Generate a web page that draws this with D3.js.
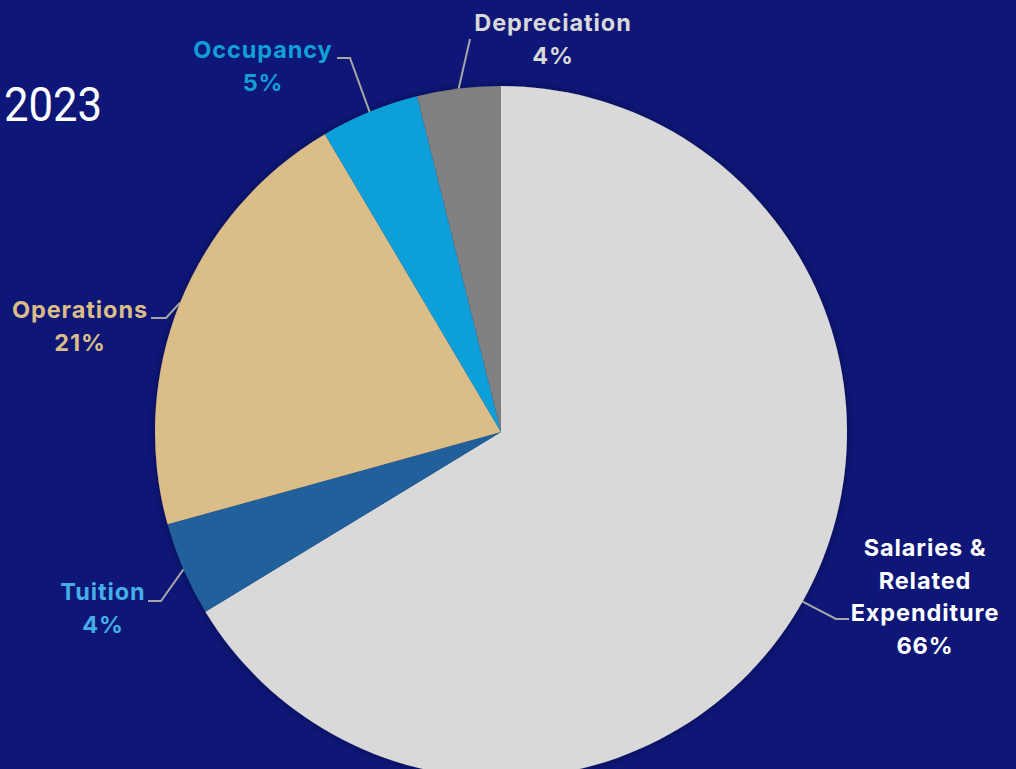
<!DOCTYPE html>
<html><head><meta charset="utf-8">
<script src="https://cdn.jsdelivr.net/npm/d3@7"></script>
<style>
html,body{margin:0;padding:0;background:#0e1777;overflow:hidden;}
svg{display:block;}
</style></head>
<body>
<svg id="c" width="1016" height="769"></svg>
<script>
const categories = ["Salaries & Related Expenditure", "Tuition", "Operations", "Occupancy", "Depreciation"];
const values = [66.3, 4.4, 20.8, 4.6, 3.9];
const pctLabels = ["66%", "4%", "21%", "5%", "4%"];
const labelLines = [["Salaries &", "Related", "Expenditure"], ["Tuition"], ["Operations"], ["Occupancy"], ["Depreciation"]];
const sliceColors = ["#d9d9d9", "#22609b", "#dbbd87", "#119fd8", "#808080"];
const textColors = ["#ffffff", "#45aee6", "#dbbd87", "#119fd8", "#d9d9d9"];

const svg = d3.select("#c");
const cx = 501, cy = 432, R = 346;

const defs = svg.append("defs");
const f = defs.append("filter").attr("id","sh").attr("x","-20%").attr("y","-20%").attr("width","140%").attr("height","140%");
f.append("feGaussianBlur").attr("in","SourceAlpha").attr("stdDeviation",4);
f.append("feOffset").attr("dx",0).attr("dy",0).attr("result","b");
f.append("feFlood").attr("flood-color","#000033").attr("flood-opacity",0.6);
f.append("feComposite").attr("in2","b").attr("operator","in");
const m = f.append("feMerge"); m.append("feMergeNode"); m.append("feMergeNode").attr("in","SourceGraphic");

svg.append("text").attr("transform","translate(4,121) scale(0.91,1)").attr("fill","#ffffff")
  .attr("font-family","Roboto, sans-serif").attr("font-size",48).text("2023");

const pie = d3.pie().sort(null).value(d=>d);
const arcs = pie(values);
const arc = d3.arc().innerRadius(0).outerRadius(R);
const g = svg.append("g").attr("transform",`translate(${cx},${cy})`);
g.append("g").attr("filter","url(#sh)").selectAll("path").data(arcs).join("path")
  .attr("d",arc).attr("fill",(d,i)=>sliceColors[i]);

const labelPos = [
  {x:925, y:548, elbow:[836,619], end:[849,619]},
  {x:103, y:592, elbow:[161,601], end:[148,601]},
  {x:80, y:310, elbow:[166,318], end:[151,318]},
  {x:263, y:50, elbow:[350,58], end:[337,58]},
  {x:553, y:23, elbow:[470,39], end:[470,39]}
];
arcs.forEach((a,i)=>{
  const mid = (a.startAngle + a.endAngle)/2;
  const px = cx + R*Math.sin(mid), py = cy - R*Math.cos(mid);
  const lp = labelPos[i];
  svg.append("polyline").attr("points",[[px,py],lp.elbow,lp.end].map(p=>p.join(",")).join(" "))
    .attr("fill","none").attr("stroke","#a6a6a6").attr("stroke-width",2);
  const lines = labelLines[i].concat([pctLabels[i]]);
  const t = svg.append("text").attr("text-anchor","middle").attr("fill",textColors[i])
    .attr("font-family","Inter, sans-serif").attr("font-weight","bold").attr("font-size",23.5)
    .attr("letter-spacing",0.9);
  lines.forEach((s,k)=>{
    t.append("tspan").attr("x",lp.x).attr("y",lp.y + k*32.5).attr("dy","0.35em").text(s);
  });
});
</script>
</body></html>
